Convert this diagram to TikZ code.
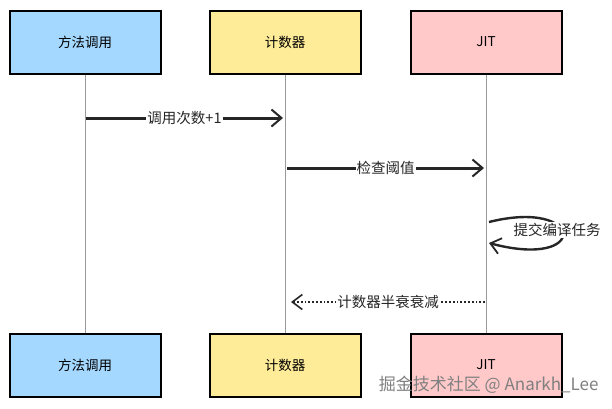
\documentclass[tikz,border=0pt]{standalone}
\usepackage{fontspec}
\setmainfont{Noto Sans CJK SC}
\usetikzlibrary{arrows.meta}
\definecolor{cblue}{HTML}{A5D8FF}
\definecolor{cyellow}{HTML}{FFEC99}
\definecolor{cpink}{HTML}{FFC9C9}
\definecolor{lifegray}{HTML}{9A9A9A}
\begin{document}
\begin{tikzpicture}[x=1pt,y=-1pt,
  actor/.style={draw=black,line width=2pt,minimum width=151pt,minimum height=63pt,inner sep=0pt,font=\fontsize{13.5}{15}\selectfont},
  life/.style={draw=lifegray,line width=0.9pt},
  msg/.style={draw=black!85,line width=3pt,-{Straight Barb[length=10pt,width=17pt,line width=2pt]}},
  ret/.style={draw=black!85,line width=1.8pt,dotted,-{Straight Barb[length=10pt,width=15pt,line width=1.6pt]}},
  lbl/.style={fill=white,inner sep=1pt,font=\fontsize{14.5}{16}\selectfont,text=black!85}]
\useasboundingbox (0,0) rectangle (612,408);
\fill[white] (0,0) rectangle (612,408);
\node[actor,fill=cblue]   (a1) at (85,42) {方法调用};
\node[actor,fill=cyellow] (b1) at (285,42) {计数器};
\node[actor,fill=cpink]   (c1) at (486,42) {JIT};
\node[actor,fill=cblue]   (a2) at (85,365) {方法调用};
\node[actor,fill=cyellow] (b2) at (285,365) {计数器};
\node[actor,fill=cpink]   (c2) at (486,365) {JIT};
\draw[life] (a1.south) -- (a2.north);
\draw[life] (b1.south) -- (b2.north);
\draw[life] (c1.south) -- (c2.north);
\coordinate (p1) at (86,118);
\coordinate (q1) at (283,118);
\coordinate (p2) at (287,168);
\coordinate (q2) at (484,168);
\coordinate (s1) at (489,222);
\coordinate (s2) at (489,243);
\coordinate (r1) at (485,302);
\coordinate (r2) at (291,302);
\draw[msg] (p1) -- node[lbl] {调用次数+1} (q1);
\draw[msg] (p2) -- node[lbl] {检查阈值} (q2);
\draw[draw=black!85,line width=2.4pt,-{Straight Barb[length=10pt,width=16pt,line width=1.8pt]}]
  (s1) .. controls (585,198) and (590,270) .. (s2);
\node[lbl] (t) at (557,230) {提交编译任务};
\draw[ret] (r1) -- node[lbl] {计数器半衰衰减} (r2);
\node[font=\fontsize{17}{19}\selectfont,text=black!50,anchor=east] (wm) at (602,385) {掘金技术社区 @ Anarkh\_Lee};
\end{tikzpicture}
\end{document}
